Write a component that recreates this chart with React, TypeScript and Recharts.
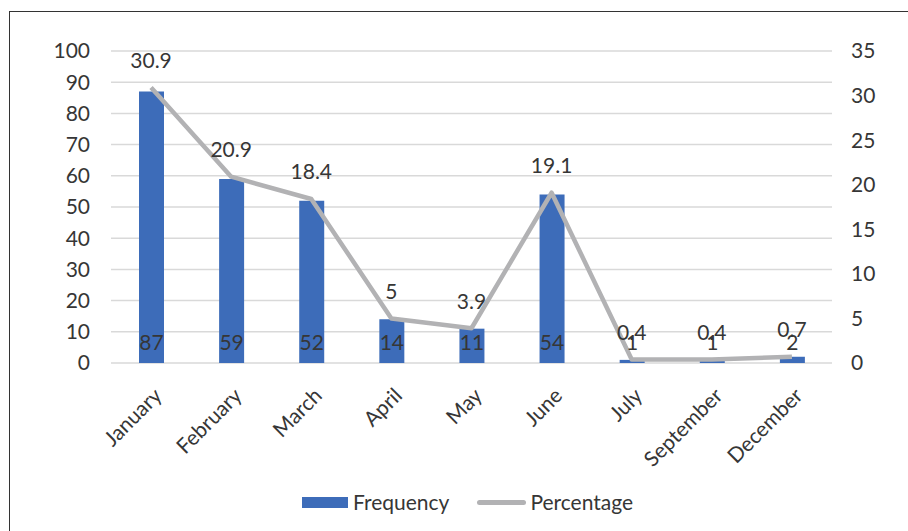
import React from 'react';
import { ComposedChart, Bar, Line, XAxis, YAxis, CartesianGrid, Legend, LabelList } from 'recharts';

const months = ['January', 'February', 'March', 'April', 'May', 'June', 'July', 'September', 'December'];
const frequency = [87, 59, 52, 14, 11, 54, 1, 1, 2];
const percentage = [30.9, 20.9, 18.4, 5, 3.9, 19.1, 0.4, 0.4, 0.7];
const leftTicks = [0, 10, 20, 30, 40, 50, 60, 70, 80, 90, 100];
const rightTicks = [0, 5, 10, 15, 20, 25, 30, 35];

const BAR_COLOR = '#3D6CB9';
const LINE_COLOR = '#B2B2B4';
const TEXT_COLOR = '#363636';
const FONT = 'Lato, "Open Sans", sans-serif';
const FS = 21;

const data = months.map((m, i) => ({ month: m, frequency: frequency[i], percentage: percentage[i] }));

const MonthTick = (props: any) => {
  const { x, y, payload } = props;
  return (
    <text
      transform={`translate(${x + 6},${y + 28}) rotate(-45)`}
      textAnchor="end"
      dominantBaseline="central"
      fill={TEXT_COLOR}
      fontSize={FS}
      fontFamily={FONT}
    >
      {payload.value}
    </text>
  );
};

// label sitting inside the bar, near its base
const BarBaseLabel = (props: any) => {
  const vb = props.viewBox || {};
  const x = props.x ?? vb.x;
  const y = props.y ?? vb.y;
  const w = props.width ?? vb.width;
  const h = props.height ?? vb.height;
  return (
    <text x={x + w / 2} y={y + h - 22} textAnchor="middle" dominantBaseline="central" fill={TEXT_COLOR} fontSize={FS} fontFamily={FONT}>
      {props.value}
    </text>
  );
};

const PointLabel = (props: any) => {
  const vb = props.viewBox || {};
  const x = props.x ?? vb.x;
  const y = props.y ?? vb.y;
  return (
    <text x={x} y={y - 28} textAnchor="middle" dominantBaseline="central" fill={TEXT_COLOR} fontSize={FS} fontFamily={FONT}>
      {props.value}
    </text>
  );
};

const LegendContent = (props: any) => {
  const items = props.payload || [];
  return (
    <div style={{ display: 'flex', alignItems: 'center', fontFamily: FONT, fontSize: FS, color: TEXT_COLOR, lineHeight: '24px' }}>
      {items.map((item: any, i: number) => (
        <div key={i} style={{ display: 'flex', alignItems: 'center', marginLeft: i === 0 ? 0 : 28 }}>
          {item.type === 'line' ? (
            <span style={{ display: 'inline-block', width: 49, height: 5, borderRadius: 3, background: LINE_COLOR }} />
          ) : (
            <span style={{ display: 'inline-block', width: 46, height: 11, background: BAR_COLOR }} />
          )}
          <span style={{ marginLeft: item.type === 'line' ? 4 : 5 }}>{item.value}</span>
        </div>
      ))}
    </div>
  );
};

export default function App() {
  return (
    <div style={{ position: 'absolute', left: 8, top: 8, width: 900, height: 523, overflow: 'hidden' }}>
      <div style={{ position: 'absolute', left: 1, top: 3, width: 920, height: 540, border: '1px solid #333', background: '#fff' }}>
        <ComposedChart width={900} height={520} data={data} margin={{ top: 39, right: 18, bottom: 69, left: 41 }}>
          <CartesianGrid yAxisId="left" vertical={false} stroke="#D9D9D9" strokeWidth={1.5} />
          <XAxis
            dataKey="month"
            axisLine={false}
            tickLine={false}
            tickSize={0}
            tickMargin={0}
            height={100}
            interval={0}
            tick={<MonthTick />}
          />
          <YAxis
            yAxisId="left"
            domain={[0, 100]}
            ticks={leftTicks}
            axisLine={false}
            tickLine={false}
            tickSize={0}
            tickMargin={21}
            width={60}
            tick={{ fill: TEXT_COLOR, fontSize: FS, fontFamily: FONT }}
          />
          <YAxis
            yAxisId="right"
            orientation="right"
            domain={[0, 35]}
            ticks={rightTicks}
            axisLine={false}
            tickLine={false}
            tickSize={0}
            tickMargin={19}
            width={60}
            tick={{ fill: TEXT_COLOR, fontSize: FS, fontFamily: FONT, textAnchor: 'start' }}
          />
          <Legend
            layout="horizontal"
            verticalAlign="middle"
            align="center"
            content={<LegendContent />}
            wrapperStyle={{ position: 'absolute', left: 292, top: 478, width: 400, height: 26 }}
          />
          <Bar yAxisId="left" dataKey="frequency" name="Frequency" fill={BAR_COLOR} barSize={25} isAnimationActive={false}>
            <LabelList dataKey="frequency" content={<BarBaseLabel />} />
          </Bar>
          <Line
            yAxisId="right"
            type="linear"
            dataKey="percentage"
            name="Percentage"
            stroke={LINE_COLOR}
            strokeWidth={4.5}
            strokeLinejoin="round"
            dot={false}
            activeDot={false}
            isAnimationActive={false}
          >
            <LabelList dataKey="percentage" content={<PointLabel />} />
          </Line>
        </ComposedChart>
      </div>
    </div>
  );
}
